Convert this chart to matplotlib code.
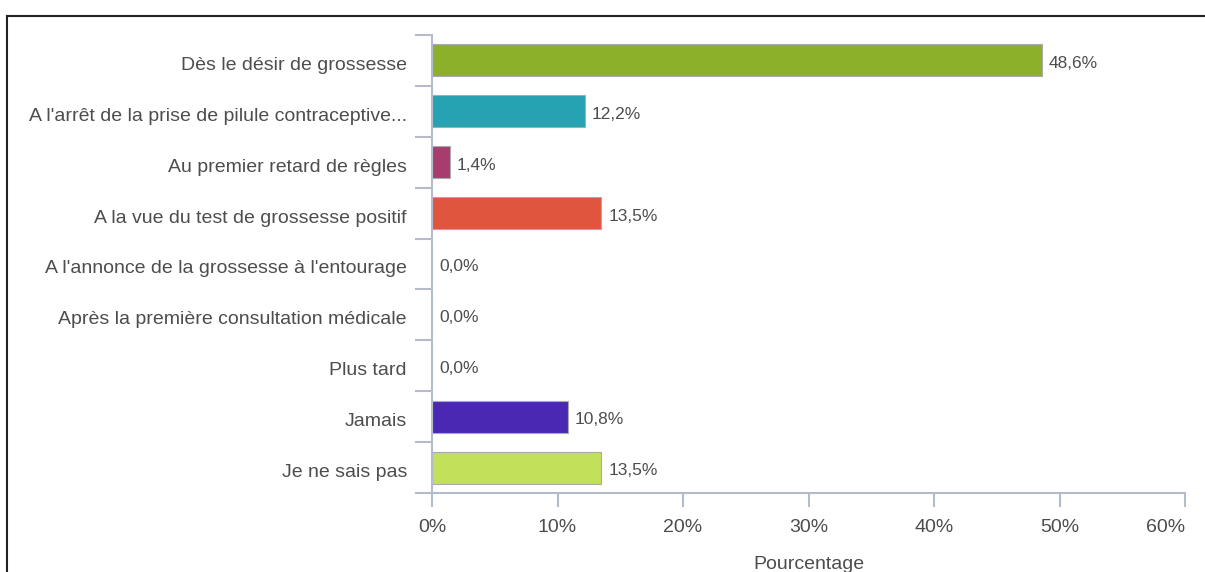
import matplotlib.pyplot as plt
from matplotlib.lines import Line2D
from matplotlib.ticker import FuncFormatter
from matplotlib.transforms import ScaledTranslation

categories = [
    "Dès le désir de grossesse",
    "A l'arrêt de la prise de pilule contraceptive...",
    "Au premier retard de règles",
    "A la vue du test de grossesse positif",
    "A l'annonce de la grossesse à l'entourage",
    "Après la première consultation médicale",
    "Plus tard",
    "Jamais",
    "Je ne sais pas",
]
values = [48.6, 12.2, 1.4, 13.5, 0.0, 0.0, 0.0, 10.8, 13.5]
colors = ["#8db02a", "#27a2b3", "#a63d6e", "#e0553e", "#cccccc",
          "#cccccc", "#cccccc", "#4a28b4", "#c2e05a"]
xticks = [0, 10, 20, 30, 40, 50, 60]

plt.rcParams["font.family"] = ["Liberation Sans", "DejaVu Sans"]

fig = plt.figure(figsize=(12.05, 5.72), dpi=100)
ax = fig.add_axes([0.3585, 0.138, 0.625, 0.801])

axis_col = "#b4bccc"
text_col = "#4d4d4d"
down = ScaledTranslation(0, -3 / 100, fig.dpi_scale_trans)  # texte un peu plus bas

y = list(range(len(categories)))
ax.barh(y, values, height=0.63, color=colors, edgecolor="#aaaaaa", linewidth=0.8)
for yi, v in zip(y, values):
    ax.text(v + 0.55, yi, f"{v:.1f}%".replace(".", ","), va="center", ha="left",
            fontsize=12.5, color=text_col, transform=ax.transData + down)

ax.set_xlim(0, 60)
ax.set_ylim(len(categories) - 0.5, -0.5)
ax.set_xticks(xticks)
ax.xaxis.set_major_formatter(FuncFormatter(lambda x, p: f"{x:.0f}%"))
ax.set_yticks(y)
ax.set_yticklabels(categories)
ax.set_yticks([i - 0.5 for i in range(len(categories) + 1)], minor=True)
ax.tick_params(axis="y", which="major", length=0, pad=18, labelsize=14, labelcolor=text_col)
ax.tick_params(axis="y", which="minor", length=12, width=1.5, color=axis_col)
ax.tick_params(axis="x", length=10, width=1.5, color=axis_col, labelsize=14,
               labelcolor=text_col, pad=9)
for lbl in ax.get_yticklabels():
    lbl.set_transform(lbl.get_transform() + down)
ax.get_xticklabels()[-1].set_ha("right")
ax.set_xlabel("Pourcentage", fontsize=14, color=text_col, labelpad=14)

for s in ["top", "right"]:
    ax.spines[s].set_visible(False)
for s in ["left", "bottom"]:
    ax.spines[s].set_color(axis_col)
    ax.spines[s].set_linewidth(1.5)

# cadre de la capture d'origine
fig.add_artist(Line2D([7 / 1205, 1], [1 - 16 / 572, 1 - 16 / 572], color="#222222", lw=1.5))
fig.add_artist(Line2D([7 / 1205, 7 / 1205], [0, 1 - 16 / 572], color="#222222", lw=1.5))

fig.savefig("out.png", dpi=100)
